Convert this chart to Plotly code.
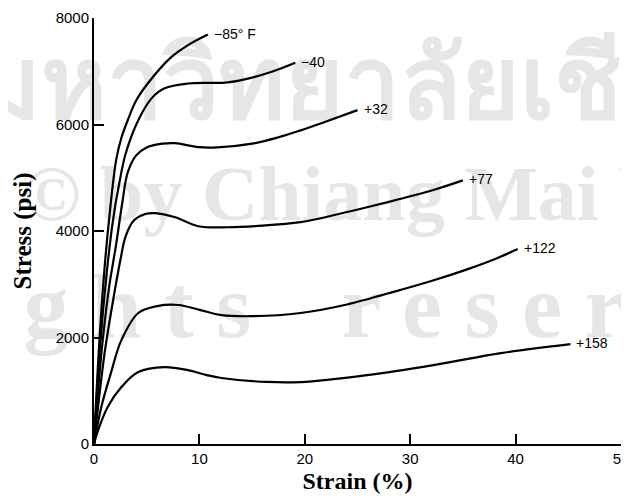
import plotly.graph_objects as go

# ---- data (strain %, stress psi) ----
strain_m85 = [0, 0.5, 1.0, 1.5, 2.1, 2.6, 3.2, 4.0, 5.1, 7.3, 9.0, 10.8]
stress_m85 = [0, 1900, 3300, 4350, 5330, 5750, 6080, 6450, 6770, 7260, 7500, 7690]

strain_m40 = [0, 0.6, 1.2, 1.8, 2.4, 3.0, 4.2, 5.5, 6.7, 8.9, 12.7, 14.8, 17.0, 19.1]
stress_m40 = [0, 1900, 3200, 4200, 4900, 5450, 6080, 6500, 6680, 6770, 6790, 6870, 7000, 7160]

strain_p32 = [0, 0.7, 1.4, 2.1, 2.7, 3.2, 4.0, 5.0, 6.5, 7.7, 9.9, 11.7, 15.0, 17.5, 19.6, 21.5, 25.0]
stress_p32 = [0, 1700, 2900, 3750, 4550, 5100, 5420, 5570, 5640, 5650, 5575, 5570, 5640, 5760, 5890, 6020, 6270]

strain_p77 = [0, 1.0, 1.9, 2.5, 3.0, 3.8, 4.8, 5.8, 7.7, 9.9, 12.7, 16.0, 19.6, 21.5, 25.9, 29.0, 32.2, 35.0]
stress_p77 = [0, 1700, 2800, 3450, 3900, 4200, 4315, 4335, 4258, 4090, 4070, 4100, 4165, 4240, 4446, 4600, 4770, 4950]

strain_p122 = [0, 0.7, 1.6, 2.6, 4.2, 6.0, 8.0, 10.0, 12.1, 15.0, 19.6, 24.0, 29.0, 32.0, 35.4, 38.0, 40.2]
stress_p122 = [0, 700, 1330, 1950, 2460, 2590, 2610, 2520, 2420, 2400, 2460, 2620, 2890, 3060, 3280, 3470, 3660]

strain_p158 = [0, 0.4, 1.3, 2.6, 4.2, 6.7, 8.9, 10.7, 12.1, 16.4, 19.6, 25.9, 32.2, 38.6, 45.2]
stress_p158 = [0, 263, 694, 1069, 1351, 1444, 1388, 1294, 1240, 1165, 1163, 1294, 1482, 1707, 1876]

curve_labels = ["\u221285\u00b0 F", "\u221240", "+32", "+77", "+122", "+158"]
curves = [
    (strain_m85, stress_m85),
    (strain_m40, stress_m40),
    (strain_p32, stress_p32),
    (strain_p77, stress_p77),
    (strain_p122, stress_p122),
    (strain_p158, stress_p158),
]

x_ticks = [0, 10, 20, 30, 40, 50]
y_ticks = [0, 2000, 4000, 6000, 8000]

# faint watermark text of the scanned reference
wm_lines = [
    "\u0e21\u0e2b\u0e32\u0e27\u0e34\u0e17\u0e22\u0e32\u0e25\u0e31\u0e22\u0e40\u0e0a\u0e35\u0e22\u0e07\u0e43\u0e2b\u0e21\u0e48",
    "\u00a9 by Chiang Mai University",
    "A l l    r i g h t s    r e s e r v e d",
]
wm_x = [33.1, 37.9, 14.6]
wm_y = [6600, 4580, 2440]
wm_size = [100, 78, 90]

fig = go.Figure()

for t, x, y, s in zip(wm_lines, wm_x, wm_y, wm_size):
    fig.add_trace(go.Scatter(
        x=[x], y=[y], mode="text", text=[t], textposition="middle center",
        textfont=dict(family="Liberation Serif", size=s, color="#e7e5e5", weight="bold"),
        cliponaxis=False, hoverinfo="skip", showlegend=False,
    ))

for (sx, sy), lab in zip(curves, curve_labels):
    fig.add_trace(go.Scatter(
        x=sx, y=sy, mode="lines", name=lab,
        line=dict(color="black", width=2.2, shape="spline", smoothing=1.0),
        showlegend=False, hoverinfo="skip",
    ))
    fig.add_annotation(
        x=sx[-1], y=sy[-1], text=lab, showarrow=False,
        xanchor="left", yanchor="middle", xshift=4, yshift=1,
        font=dict(family="Liberation Sans", size=14, color="black"),
    )

axis_common = dict(
    showline=True, linecolor="black", linewidth=2,
    ticks="inside", ticklen=10, tickwidth=1.6, tickcolor="black",
    showgrid=False, zeroline=False, automargin=False,
    ticklabeloverflow="allow",
    tickfont=dict(family="Liberation Sans", size=15, color="black"),
)

fig.update_xaxes(
    range=[0, 50], tickvals=x_ticks, ticktext=[str(v) for v in x_ticks],
    title=dict(text="Strain (%)", standoff=6,
               font=dict(family="Liberation Serif", size=24, color="black", weight="bold")),
    **axis_common,
)
fig.update_yaxes(
    range=[0, 8000], tickvals=y_ticks, ticktext=[str(v) for v in y_ticks],
    title=dict(text="Stress (psi)", standoff=17,
               font=dict(family="Liberation Serif", size=25, color="black", weight="bold")),
    **axis_common,
)

# the page body adds an 8px offset; the figure is sized to fill the rest of the window
fig.update_layout(
    width=621, height=490,
    margin=dict(l=86, r=8, t=10, b=54),
    paper_bgcolor="white", plot_bgcolor="white",
    showlegend=False,
)

fig.write_html("out.html")
